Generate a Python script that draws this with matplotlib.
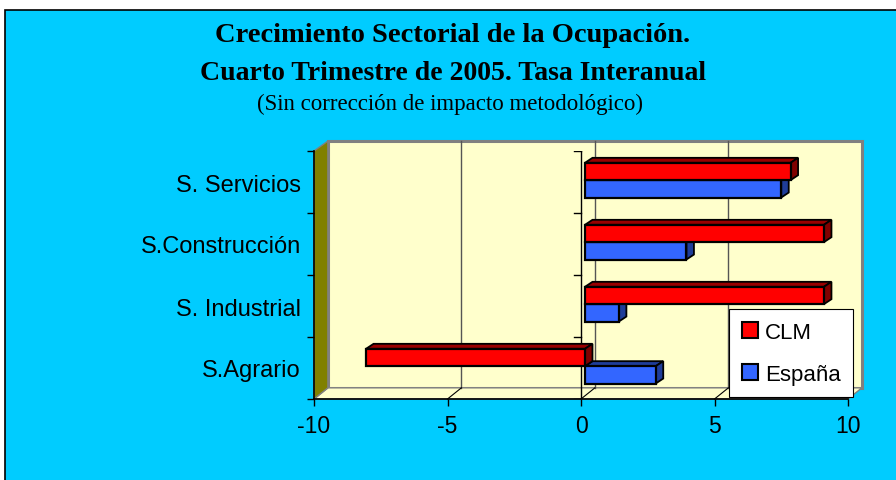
import matplotlib
matplotlib.use("Agg")
import matplotlib.pyplot as plt
from matplotlib.patches import Rectangle, Polygon, Patch

# datos (tasa interanual, %)
sectores = ["S.Agrario", "S. Industrial", "S.Construcción", "S. Servicios"]
clm = [-8.2, 8.95, 8.95, 7.7]
espana = [2.65, 1.27, 3.8, 7.35]
xticks = [-10, -5, 0, 5, 10]

W, H = 896, 481
fig = plt.figure(figsize=(W / 100, H / 100), dpi=100)
fig.patch.set_facecolor("white")
fig.add_artist(Rectangle((5 / W, -0.01), 1.0, (H - 11) / H + 0.01, transform=fig.transFigure,
                         facecolor="#00CCFF", edgecolor="black", lw=1.2, zorder=0))

# titulo
fig.text(453 / W, 1 - 36 / H, "Crecimiento Sectorial de la Ocupación.", ha="center", va="center",
         fontsize=20.5, fontweight="bold", family="Liberation Serif")
fig.text(453 / W, 1 - 74 / H, "Cuarto Trimestre de 2005. Tasa Interanual", ha="center", va="center",
         fontsize=20, fontweight="bold", family="Liberation Serif")
fig.text(450 / W, 1 - 104 / H, "(Sin corrección de impacto metodológico)", ha="center", va="center",
         fontsize=16.5, family="Liberation Serif")

ax = fig.add_axes([314 / W, (H - 400) / H, 534 / W, 248 / H])
ax.set_xlim(-10, 10)
ax.set_ylim(0, 4)
ax.patch.set_visible(False)

# profundidad del "3D"
dx, dy = 0.52, 0.18
bdx, bdy = 0.28, 0.08  # grosor de las barras
ox, oy = 0.15, 0.03
h = 0.28

# pared del fondo, suelo y pared izquierda
ax.add_patch(Rectangle((-10 + dx, dy), 20, 4 - 0.02, facecolor="#FFFFCC", edgecolor="#808080", lw=2.2,
                       clip_on=False, zorder=0.5))
ax.add_patch(Polygon([(-10, 0), (10, 0), (10 + dx, dy), (-10 + dx, dy)], closed=True,
                     facecolor="#FFFFCC", edgecolor="#808080", lw=1, clip_on=False, zorder=0.6))
ax.add_patch(Polygon([(-10, 0), (-10, 4), (-10 + dx, 4 + dy - 0.02), (-10 + dx, dy)], closed=True,
                     facecolor="#808000", edgecolor="#808080", lw=1, clip_on=False, zorder=0.7))
for v in xticks[1:-1]:
    ax.plot([v + dx, v + dx], [dy, 4 + dy - 0.02], color="#555555", lw=1, zorder=0.8, clip_on=False)
    ax.plot([v, v + dx], [0, dy], color="black", lw=0.8, zorder=0.8, clip_on=False)

# eje de categorias en cero
ax.plot([0, 0], [0, 4], color="black", lw=1, zorder=1)
for k in range(5):
    ax.plot([-0.26, 0], [k, k], color="black", lw=1, zorder=1)


def bar3d(val, y0, face, top, side):
    x0 = ox
    x1 = val + ox
    lo, hi = min(x0, x1), max(x0, x1)
    ax.add_patch(Polygon([(lo, y0 + h), (hi, y0 + h), (hi + bdx, y0 + h + bdy), (lo + bdx, y0 + h + bdy)],
                         closed=True, facecolor=top, edgecolor="black", lw=1.3, zorder=3, clip_on=False))
    ax.add_patch(Polygon([(hi, y0), (hi, y0 + h), (hi + bdx, y0 + h + bdy), (hi + bdx, y0 + bdy)],
                         closed=True, facecolor=side, edgecolor="black", lw=1.3, zorder=3, clip_on=False))
    ax.add_patch(Rectangle((lo, y0), hi - lo, h, facecolor=face, edgecolor="black", lw=1.6,
                           zorder=3, clip_on=False))


for i in range(len(sectores)):
    c = i + 0.5 + oy
    bar3d(espana[i], c - h, "#3366FF", "#1F3D99", "#1F3D99")
for i in range(len(sectores)):
    c = i + 0.5 + oy
    bar3d(clm[i], c, "#FF0000", "#990000", "#800000")

# ejes
for s in ["top", "right"]:
    ax.spines[s].set_visible(False)
ax.spines["bottom"].set_linewidth(1.2)
ax.spines["left"].set_linewidth(1.2)
ax.set_xticks(xticks)
ax.set_xticklabels([str(v) for v in xticks], family="Liberation Sans", fontsize=16.5)
ax.tick_params(axis="x", length=5, width=1, pad=6)
ax.set_yticks([i + 0.5 for i in range(len(sectores))])
ax.set_yticklabels(sectores, family="Liberation Sans", fontsize=17)
ax.set_yticks(range(5), minor=True)
ax.tick_params(axis="y", which="major", length=0, pad=9.5)
ax.tick_params(axis="y", which="minor", length=5, width=1)

leg = fig.legend(handles=[Patch(facecolor="#FF0000", edgecolor="black", lw=1.5),
                          Patch(facecolor="#3366FF", edgecolor="black", lw=1.5)],
                 labels=["CLM", "España"], loc="lower right",
                 bbox_to_anchor=(853 / W, (H - 398) / H), frameon=True, fancybox=False,
                 edgecolor="black", framealpha=1, prop={"family": "Liberation Sans", "size": 16},
                 handlelength=0.75, handleheight=0.7, handletextpad=0.3, labelspacing=0.95,
                 borderpad=0.55, borderaxespad=0)
leg.get_frame().set_linewidth(0.8)

fig.savefig("out.png", dpi=100)
